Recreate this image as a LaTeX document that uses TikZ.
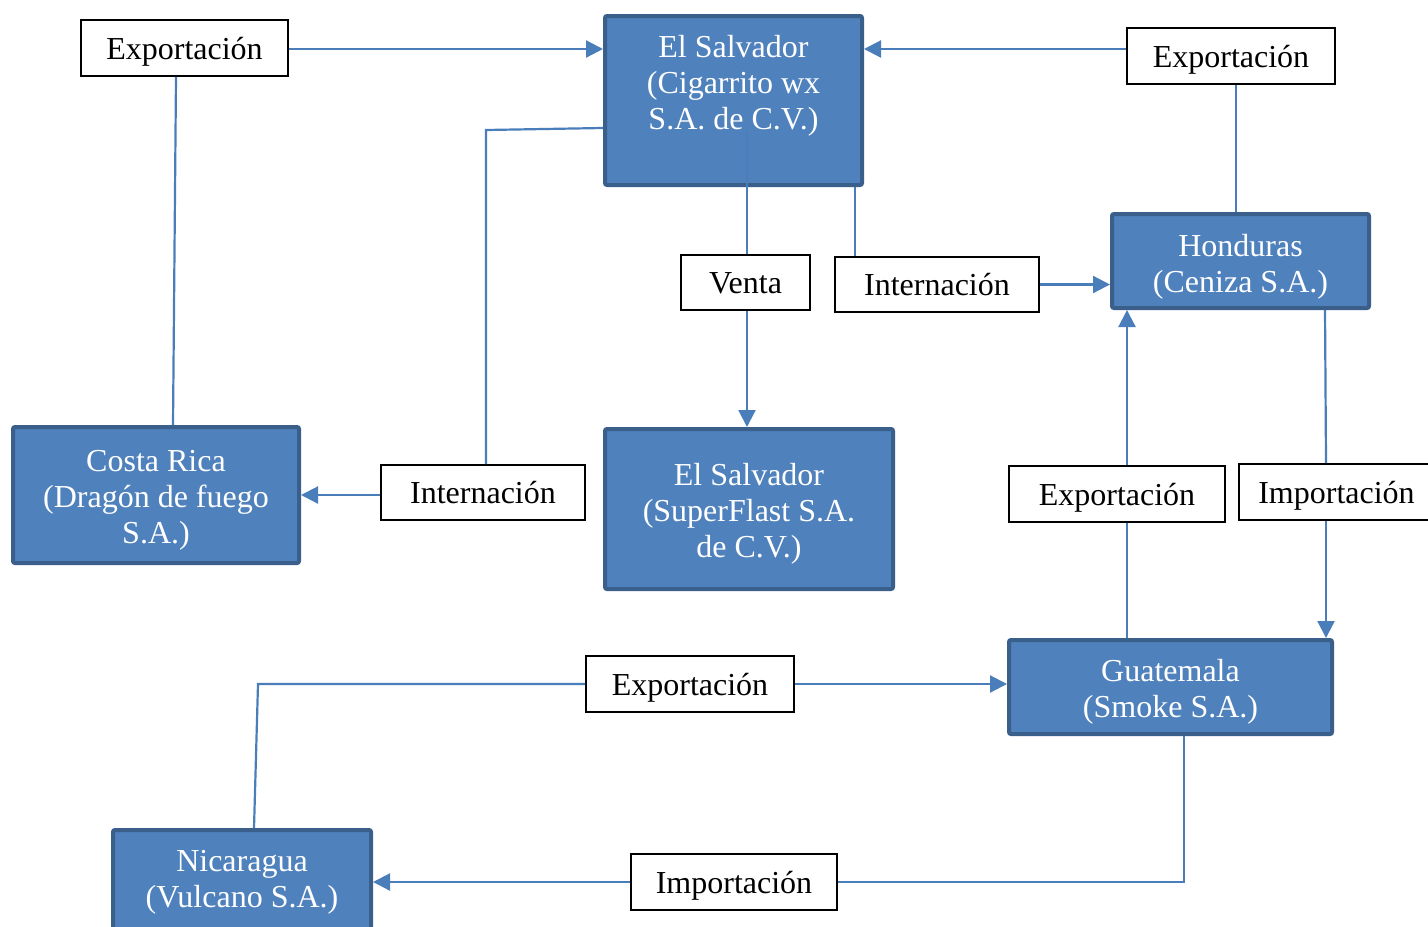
\documentclass[tikz,border=0pt]{standalone}
\usepackage{fontspec}
\setmainfont{Liberation Serif}
\usetikzlibrary{arrows.meta,calc}
\definecolor{bfill}{HTML}{4F81BD}
\definecolor{bedge}{HTML}{3A5F8B}
\definecolor{lnk}{HTML}{4A7EBB}
\begin{document}
\begin{tikzpicture}[x=0.5pt,y=-0.5pt,
 bluebox/.style={draw=bedge,line width=2pt,fill=bfill,rounded corners=1pt,inner sep=0pt},
 btext/.style={text=white,align=center,font=\fontsize{16}{18}\selectfont,inner sep=0pt},
 lbl/.style={draw=black,line width=1pt,fill=white,inner sep=0pt,minimum height=28pt,text height=13pt,text depth=2pt,font=\fontsize{16}{18}\selectfont},
 conn/.style={draw=lnk,line width=1.1pt},
 arr/.style={conn,-{Triangle[length=8.5pt,width=8.5pt]}}]
\clip (0,0) rectangle (1428,926);
\fill[white] (0,0) rectangle (1428,926);
% blue boxes
\node[bluebox,minimum width=128.5pt,minimum height=84.5pt] (es1) at (733.5,100.5) {};
\node[bluebox,minimum width=128.5pt,minimum height=47pt] (hon) at (1240.5,261) {};
\node[bluebox,minimum width=143pt,minimum height=68pt] (cr) at (156,495) {};
\node[bluebox,minimum width=144pt,minimum height=80pt] (es2) at (749,509) {};
\node[bluebox,minimum width=161.5pt,minimum height=47pt] (gua) at (1170.5,687) {};
\node[bluebox,minimum width=129pt,minimum height=50pt] (nic) at (242,880) {};
% texts of blue boxes
\node[btext] (es1t) at (733.5,86) {El Salvador\\(Cigarrito wx\\S.A. de C.V.)};
\node[btext] (hont) at (1240.5,267) {Honduras\\(Ceniza S.A.)};
\node[btext] (crt) at (156,500) {Costa Rica\\(Dragón de fuego\\S.A.)};
\node[btext] (es2t) at (749,514) {El Salvador\\(SuperFlast S.A.\\de C.V.)};
\node[btext] (guat) at (1170.5,692) {Guatemala\\(Smoke S.A.)};
\node[btext] (nict) at (242,882.5) {Nicaragua\\(Vulcano S.A.)};
% labels
\node[lbl,minimum width=103.5pt] (exp1) at (184.5,48) {Exportación};
\node[lbl,minimum width=104pt] (exp2) at (1231,56) {Exportación};
\node[lbl,minimum width=64.5pt,minimum height=27.5pt] (venta) at (745.5,282.5) {Venta};
\node[lbl,minimum width=102pt,minimum height=27.5pt] (int1) at (937,284.5) {Internación};
\node[lbl,minimum width=102pt,minimum height=27.5pt] (int2) at (483,492.5) {Internación};
\node[lbl,minimum width=108pt] (exp3) at (1117,494) {Exportación};
\node[lbl,minimum width=97.5pt] (imp1) at (1336.5,492) {Importación};
\node[lbl,minimum width=104pt] (exp4) at (690,684) {Exportación};
\node[lbl,minimum width=103pt] (imp2) at (734,882) {Importación};
% helper coordinates
\coordinate (x1) at ($(exp1.east)+(0,1)$);
\coordinate (v1) at ($(venta.south)+(1.5,0)$);
\coordinate (i1) at ($(int1.north)+(-82,0)$);
\coordinate (c9) at ($(int2.north)+(3,0)$);
\coordinate (k9) at (486,130);
\coordinate (e3) at ($(exp3.north)+(10,0)$);
\coordinate (m1) at ($(imp1.south)+(-10.5,0)$);
\coordinate (k16) at (258,684);
\coordinate (g1) at ($(gua.south)+(13.5,0)$);
% connectors
\draw[arr] (x1) -- (x1 -| es1.west);
\draw[conn] ($(exp1.south)+(-8.5,0)$) -- ($(cr.north)+(17,0)$);
\draw[arr] (exp2.west |- x1) -- (x1 -| es1.east);
\draw[conn] ($(exp2.south)+(5,0)$) -- ($(hon.north)+(-4.5,0)$);
\draw[conn] ($(es1.center)+(13.5,29.5)$) -- ($(venta.north)+(1.5,0)$);
\draw[arr] (v1) -- (v1 |- es2.north);
\draw[conn] (i1 |- es1.south) -- (i1);
\draw[arr] (int1.east) -- (int1.east -| hon.west);
\draw[conn] ($(es1.west)+(0,27.5)$) -- (k9) -- (c9);
\draw[arr] (int2.west |- cr.east) -- (cr.east);
\draw[arr] (e3) -- (e3 |- hon.south);
\draw[conn] (e3 |- exp3.south) -- (e3 |- gua.north);
\draw[conn] ($(hon.south)+(84.5,0)$) -- ($(imp1.north)+(-10.5,0)$);
\draw[arr] (m1) -- (m1 |- gua.north);
\draw[arr] (exp4.east) -- (exp4.east -| gua.west);
\draw[conn] (exp4.west) -- (k16) -- ($(nic.north)+(12,0)$);
\draw[conn] (g1) -- (g1 |- imp2.east) -- (imp2.east);
\draw[arr] (imp2.west) -- (imp2.west -| nic.east);
\end{tikzpicture}
\end{document}
